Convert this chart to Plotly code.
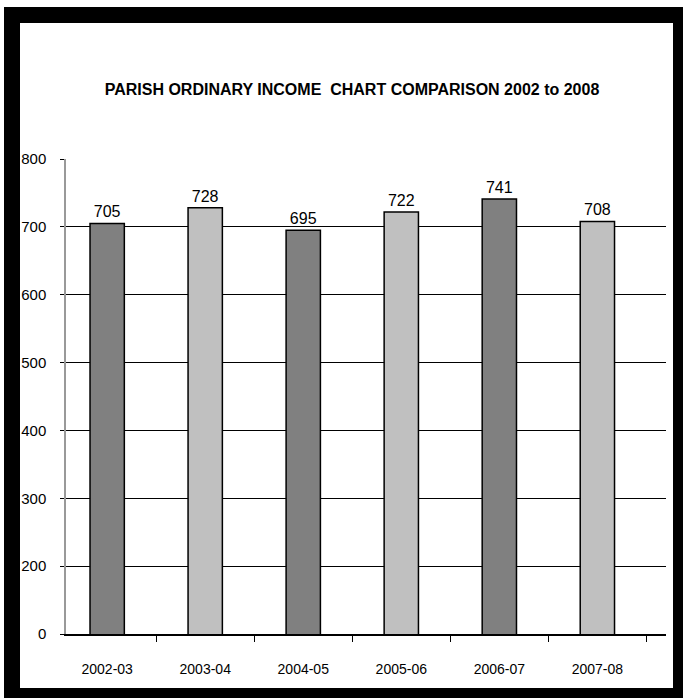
import plotly.graph_objects as go

categories = ["2002-03", "2003-04", "2004-05", "2005-06", "2006-07", "2007-08"]
income = [705, 728, 695, 722, 741, 708]
bar_colors = ["#808080", "#C0C0C0", "#808080", "#C0C0C0", "#808080", "#C0C0C0"]
y_tick_values = [100, 200, 300, 400, 500, 600, 700, 800]
y_tick_labels = ["0", "200", "300", "400", "500", "600", "700", "800"]

W, H = 683, 698
L, R, T, B = 66, 17, 159, 64
pw, ph = W - L - R, H - T - B

def px(x):
    return (x - L) / pw

def py(y):
    return (H - B - y) / ph

FONT = "Liberation Sans, Arial, sans-serif"

fig = go.Figure()
fig.add_trace(go.Bar(
    x=list(range(len(categories))),
    y=income,
    base=0,
    width=0.35,
    marker=dict(color=bar_colors, line=dict(color="black", width=1.5)),
    text=[str(v) for v in income],
    textposition="outside",
    textfont=dict(family=FONT, size=16, color="black"),
    cliponaxis=False,
    showlegend=False,
))

fig.update_layout(
    width=W, height=H,
    margin=dict(l=L, r=R, t=T, b=B, pad=0),
    paper_bgcolor="white",
    plot_bgcolor="rgba(0,0,0,0)",
    title=dict(
        text="<b>PARISH ORDINARY INCOME  CHART COMPARISON 2002 to 2008</b>",
        x=352 / W, xanchor="center", xref="container",
        y=1 - 89 / H, yanchor="middle", yref="container",
        font=dict(family=FONT, size=16, color="black"),
    ),
    xaxis=dict(
        range=[-0.42, 5.7],
        tickmode="array",
        tickvals=list(range(len(categories))),
        ticktext=categories,
        ticks="",
        showgrid=False,
        zeroline=False,
        showline=True, linecolor="black", linewidth=1.5,
        tickfont=dict(family=FONT, size=14, color="black"),
        ticklabelstandoff=21,
        minor=dict(ticks="outside", ticklen=6, tickcolor="black", tickwidth=1,
                   tick0=0.5, dtick=1, showgrid=False),
        fixedrange=True,
    ),
    yaxis=dict(
        range=[100, 800],
        tickmode="array",
        tickvals=y_tick_values,
        ticktext=y_tick_labels,
        ticks="outside", ticklen=4, tickcolor="black",
        showgrid=True, gridcolor="black", gridwidth=1.3,
        zeroline=False,
        showline=True, linecolor="#999999", linewidth=1.5,
        tickfont=dict(family=FONT, size=15, color="black"),
        ticklabelstandoff=11,
        fixedrange=True,
    ),
    shapes=[
        dict(type="rect", xref="paper", yref="paper", layer="below",
             x0=px(4), x1=px(683), y0=py(698), y1=py(7),
             fillcolor="black", line=dict(width=0)),
        dict(type="rect", xref="paper", yref="paper", layer="below",
             x0=px(20), x1=px(673), y0=py(688), y1=py(23),
             fillcolor="white", line=dict(width=0)),
    ],
)

fig.write_html(
    "out.html",
    config={"displayModeBar": False},
    post_script="document.body.style.margin='0';document.body.style.overflow='hidden';",
)
